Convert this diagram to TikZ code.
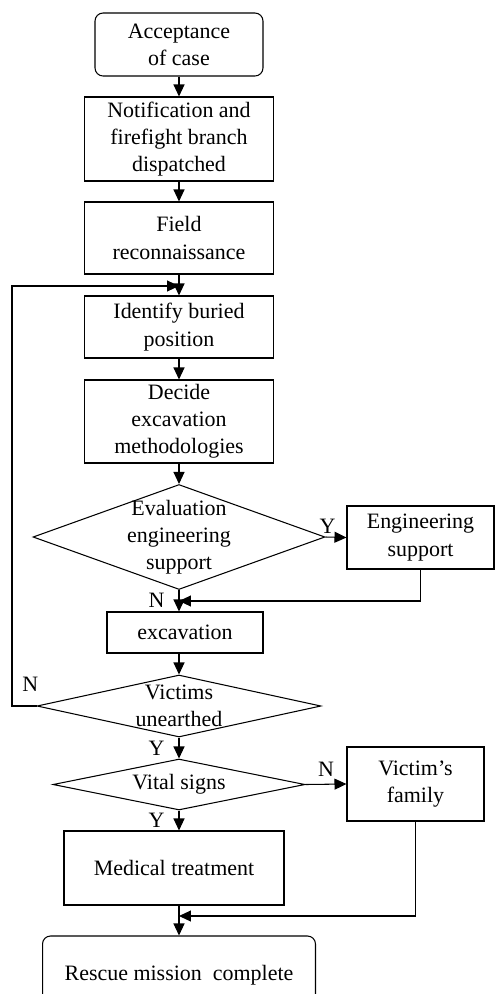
\documentclass[tikz,border=0pt]{standalone}
\usepackage{fontspec}
\setmainfont{Liberation Serif}
\usetikzlibrary{shapes.geometric,arrows.meta}

\begin{document}
\begin{tikzpicture}[
    x=0.02cm, y=-0.02cm,
    every node/.style={font=\fontsize{12.5}{15.5}\selectfont, align=center},
    terminal/.style={rectangle, rounded corners=0.16cm, draw=black, line width=0.6pt},
    process/.style={rectangle, draw=black, line width=0.6pt, inner sep=1pt},
    decision/.style={diamond, draw=black, line width=0.6pt, inner sep=0pt},
    yn/.style={inner sep=1pt},
    directed/.style={-{Triangle[length=2.4mm,width=2.2mm]}, line width=0.6pt}
]
    \useasboundingbox (0,0) rectangle (496,994);

    % Main column
    \node[terminal, minimum width=3.36cm, minimum height=1.26cm] (accept) at (179,44.5) {Acceptance\\of case};
    \node[process, minimum width=3.78cm, minimum height=1.68cm] (notify) at (179,139) {Notification and\\firefight branch\\dispatched};
    \node[process, minimum width=3.78cm, minimum height=1.44cm] (field) at (179,238) {Field\\reconnaissance};
    \node[process, minimum width=3.78cm, minimum height=1.24cm] (identify) at (179,327) {Identify buried\\position};
    \node[process, minimum width=3.78cm, minimum height=1.66cm] (decide) at (179,421.5) {Decide\\excavation\\methodologies};
    \node[decision, minimum width=5.84cm, minimum height=2.1cm, label={center:Evaluation\\engineering\\support}] (eval) at (179,537) {};
    \node[process, minimum width=3.12cm, minimum height=0.82cm] (excav) at (185,632.5) {excavation};
    \node[decision, minimum width=5.68cm, minimum height=1.24cm, label={center:Victims\\unearthed}] (victims) at (179,706) {};
    \node[decision, minimum width=5.04cm, minimum height=1.02cm, label={center:Vital signs}] (vital) at (179,784.5) {};
    \node[process, minimum width=4.4cm, minimum height=1.48cm] (medical) at (174,868) {Medical treatment};
    \node[terminal, minimum width=5.46cm, minimum height=1.56cm] (rescue) at (179,975) {Rescue mission~ complete};

    % Side boxes
    \node[process, minimum width=2.94cm, minimum height=1.26cm] (engsup) at (420.5,537.5) {Engineering\\support};
    \node[process, minimum width=2.74cm, minimum height=1.48cm] (family) at (415.5,784) {Victim’s\\family};

    % Junctions
    \coordinate (loopdn) at (12,706);
    \coordinate (loopup) at (12,286);
    \coordinate (merge1) at (179,286);
    \coordinate (merge2) at (179,601);
    \coordinate (merge3) at (179,916);

    % Arrows
    \draw[directed] (accept) -- (notify);
    \draw[directed] (notify) -- (field);
    \draw[directed] (field) -- (identify);
    \draw[directed] (identify) -- (decide);
    \draw[directed] (decide) -- (eval);
    \draw[directed] (eval.east) -- (engsup.west) node[yn, pos=0.1, above=1pt] {Y};
    \draw[directed] (eval.south) -- (eval.south |- excav.north) node[yn, midway, left=7pt] {N};
    \draw[directed] (engsup.south) |- (merge2);
    \draw[directed] (excav.south -| victims.north) -- (victims.north);
    \draw[directed] (victims.west) -- (loopdn) node[yn, pos=0.25, above=7pt] {N} -- (loopup) -- (merge1);
    \draw[directed] (victims.south) -- (vital.north) node[yn, midway, left=7pt] {Y};
    \draw[directed] (vital.east) -- (family.west) node[yn, midway, above=3pt] {N};
    \draw[directed] (vital.south) -- (vital.south |- medical.north) node[yn, midway, left=7pt] {Y};
    \draw[directed] (family.south) |- (merge3);
    \draw[directed] (medical.south -| rescue.north) -- (rescue.north);
\end{tikzpicture}
\end{document}
